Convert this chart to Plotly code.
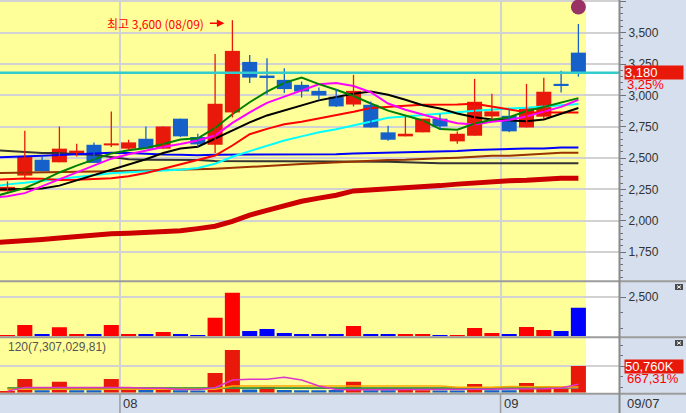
import plotly.graph_objects as go

W, H = 686, 413

# ---------------- data ----------------
idx = list(range(34))
opens  = [2235, 2360, 2487, 2466, 2527, 2606, 2601, 2575, 2654, 2575, 2814, 2668,
          2606, 2864, 3267, 3158, 3124, 3084, 3036, 2989, 2927, 2925, 2705, 2673,
          2705, 2814, 2633, 2678, 2832, 2837, 2744, 2830, 3092, 3341]
closes = [2270, 2511, 2394, 2575, 2559, 2461, 2617, 2625, 2575, 2752, 2673, 2609,
          2933, 3355, 3142, 3145, 3050, 3031, 2999, 2912, 3036, 2744, 2646, 2694,
          2814, 2752, 2694, 2949, 2872, 2713, 2901, 3029, 3079, 3180]
highs  = [2314, 2718, 2519, 2752, 2614, 2625, 2872, 2646, 2752, 2752, 2814, 2694,
          3331, 3600, 3323, 3297, 3217, 3111, 3063, 3050, 3164, 2951, 2758, 2832,
          2814, 2851, 2712, 3132, 3013, 2891, 3092, 3140, 3196, 3570]
lows   = [2232, 2328, 2394, 2466, 2513, 2461, 2588, 2567, 2575, 2575, 2668, 2591,
          2540, 2824, 3098, 3005, 3018, 2983, 2965, 2907, 2912, 2744, 2638, 2673,
          2705, 2726, 2614, 2678, 2806, 2705, 2744, 2811, 3023, 3150]

# moving averages (first value = day before the first visible candle)
ma_x = list(range(-1, 34))
ma_green   = [2185, 2220, 2260, 2320, 2385, 2440, 2490, 2537, 2562, 2580, 2612, 2648, 2658,
              2740, 2850, 2945, 3030, 3100, 3142, 3090, 3045, 2995, 2935, 2878, 2840, 2800,
              2731, 2726, 2775, 2806, 2826, 2875, 2908, 2940, 2978]
ma_magenta = [2180, 2195, 2220, 2275, 2330, 2385, 2440, 2495, 2530, 2562, 2588, 2612, 2640,
              2680, 2780, 2865, 2940, 2990, 3040, 3088, 3098, 3075, 3025, 2935, 2885, 2845,
              2810, 2778, 2768, 2790, 2804, 2832, 2868, 2908, 2965]
ma_black   = [2247, 2249, 2252, 2258, 2280, 2322, 2366, 2408, 2450, 2490, 2540, 2576, 2590,
              2655, 2725, 2785, 2840, 2880, 2920, 2960, 2987, 3013, 3030, 3005, 2965, 2922,
              2895, 2855, 2825, 2808, 2800, 2793, 2808, 2852, 2899]
ma_red     = [2325, 2330, 2336, 2334, 2324, 2326, 2332, 2339, 2355, 2380, 2415, 2450, 2480,
              2520, 2600, 2690, 2733, 2770, 2790, 2815, 2840, 2870, 2900, 2912, 2918, 2925,
              2925, 2928, 2933, 2912, 2885, 2866, 2864, 2864, 2864]
ma_cyan    = [2268, 2290, 2302, 2318, 2333, 2347, 2360, 2378, 2386, 2391, 2400, 2407, 2420,
              2455, 2510, 2555, 2595, 2640, 2673, 2705, 2730, 2760, 2795, 2822, 2832, 2845,
              2855, 2866, 2877, 2888, 2895, 2902, 2912, 2922, 2931]
ma_blue    = [2503, 2506, 2513, 2518, 2525, 2532, 2538, 2543, 2540, 2532, 2529, 2527, 2523,
              2527, 2527, 2527, 2527, 2527, 2527, 2527, 2530, 2537, 2540, 2545, 2548, 2548,
              2553, 2556, 2564, 2569, 2575, 2577, 2577, 2585, 2585]
ma_brown   = [2380, 2381, 2382, 2385, 2389, 2390, 2392, 2394, 2396, 2400, 2404, 2407, 2410,
              2415, 2421, 2428, 2434, 2444, 2453, 2460, 2466, 2474, 2482, 2485, 2487, 2495,
              2498, 2503, 2511, 2519, 2519, 2527, 2535, 2543, 2543]
ma_gray    = [2565, 2556, 2548, 2540, 2540, 2530, 2527, 2506, 2490, 2487, 2487, 2487, 2485,
              2476, 2474, 2474, 2474, 2474, 2474, 2474, 2474, 2474, 2474, 2470, 2466, 2460,
              2458, 2458, 2458, 2458, 2458, 2458, 2458, 2458, 2458]
ma_thick   = [1822, 1829, 1840, 1850, 1862, 1875, 1886, 1895, 1900, 1906, 1912, 1920, 1937,
              1956, 1995, 2045, 2083, 2120, 2155, 2180, 2203, 2238, 2245, 2250, 2260, 2270,
              2280, 2292, 2302, 2312, 2318, 2322, 2335, 2338, 2338]

# volume panel 1
vol1 = [60, 724, 147, 577, 147, 147, 724, 147, 147, 276, 147, 83, 1173, 2776, 340, 468,
        212, 147, 147, 147, 660, 147, 147, 147, 147, 83, 83, 532, 212, 147, 596, 404, 340, 1814]
# volume panel 2 (thousand shares)
vol2 = [2000, 26000, 4500, 21000, 4500, 4500, 26000, 5000, 5000, 9000, 4500, 4000, 37500,
        81000, 6000, 11000, 5000, 4500, 4500, 5000, 21000, 4500, 4500, 7500, 4500, 4000,
        4000, 16500, 4500, 4500, 18500, 11500, 9000, 50760]
vma_magenta = [3000, 10000, 10000, 10000, 10000, 10000, 10000, 10000, 8500, 8500, 6000, 6000,
               9500, 24000, 25500, 25500, 29300, 24000, 12700, 6000, 5500, 5500, 5500, 5500,
               6000, 6000, 6000, 6500, 6500, 7000, 7000, 7500, 9000, 16000]
vma_orange = [6500] * 13 + [12700] * 13 + [10500] * 3 + [12000] * 3 + [11000] * 2
vma_green = [8900] * 33
vma_gray = [8300] * 34

marker_price = 3705
month_pos = [6.5, 28.5]
month_lbl = ['08', '09']
last_date = '09/07'
chg_text = '3,25%'
vol_chg_text = '667,31%'
vol_title = '120(7,307,029,81)'
hi_date = '08/09'

# ---------------- styles ----------------
RED_C, BLUE_C = '#e8190b', '#1660c9'
YELLOW = '#ffff99'
PANEL = '#d5dfed'
GRID = '#d2d2d2'
FONT = 'Liberation Sans'
KFONT = 'Noto Sans CJK KR'

cc = [RED_C if c >= o else BLUE_C for o, c in zip(opens, closes)]
vc1 = ['#ff0000' if c >= o else '#0000ff' for o, c in zip(opens, closes)]
vc2 = [RED_C] + [RED_C if closes[i] >= closes[i - 1] else BLUE_C for i in idx[1:]]

fig = go.Figure()

# moving averages
for vals, col, wd in [(ma_thick, '#cc0000', 5), (ma_gray, '#333333', 2), (ma_brown, '#993300', 2),
                      (ma_blue, '#0000ff', 2), (ma_cyan, '#00ffff', 2), (ma_red, '#ff0000', 2),
                      (ma_black, '#000000', 2), (ma_magenta, '#ff00ff', 2), (ma_green, '#008000', 2)]:
    fig.add_trace(go.Scatter(x=ma_x, y=vals, mode='lines', line=dict(color=col, width=wd),
                             yaxis='y', hoverinfo='skip'))

# wicks
for col in (RED_C, BLUE_C):
    xs, ys = [], []
    for i in idx:
        if cc[i] == col:
            xs += [i, i, None]
            ys += [lows[i], highs[i], None]
    fig.add_trace(go.Scatter(x=xs, y=ys, mode='lines', line=dict(color=col, width=1.3),
                             yaxis='y', hoverinfo='skip'))

# bodies
fig.add_trace(go.Bar(x=idx, y=[max(abs(c - o), 10) for o, c in zip(opens, closes)],
                     base=[min(o, c) for o, c in zip(opens, closes)], width=0.87,
                     marker=dict(color=cc, line=dict(width=0)), yaxis='y', hoverinfo='skip'))

# current price line
fig.add_trace(go.Scatter(x=[-1, 36], y=[closes[-1]] * 2, mode='lines',
                         line=dict(color='#33cccc', width=2.5), yaxis='y', hoverinfo='skip'))
# marker circle
fig.add_trace(go.Scatter(x=[idx[-1]], y=[marker_price], mode='markers',
                         marker=dict(size=15, color='#993366'), yaxis='y', hoverinfo='skip'))

# volume panels
fig.add_trace(go.Bar(x=idx, y=vol1, width=0.87, marker=dict(color=vc1, line=dict(width=0)),
                     yaxis='y2', hoverinfo='skip'))
fig.add_trace(go.Bar(x=idx, y=vol2, width=0.87, marker=dict(color=vc2, line=dict(width=0)),
                     yaxis='y3', hoverinfo='skip'))
for vals, col in [(vma_gray, '#808080'), (vma_green, '#2a9a2a'), (vma_orange, '#ffa500'),
                  (vma_magenta, '#dd33cc')]:
    fig.add_trace(go.Scatter(x=idx[:len(vals)], y=vals, mode='lines', line=dict(color=col, width=1.5),
                             yaxis='y3', hoverinfo='skip'))

tickfont = dict(family=FONT, size=12, color='#333333')
yax_common = dict(side='right', anchor='x', ticks='outside', ticklen=6, tickcolor='#707070',
                  tickwidth=1, showgrid=True, gridcolor=GRID, gridwidth=1.5, zeroline=False,
                  showline=False, tickfont=tickfont, fixedrange=True)

fig.update_layout(
    width=W, height=H, margin=dict(l=0, r=0, t=0, b=0), showlegend=False,
    paper_bgcolor='white', plot_bgcolor='white', barmode='overlay', hovermode=False,
    xaxis=dict(domain=[0, 619 / W], range=[-0.4335, 35.347], anchor='y3', tickvals=month_pos,
               showticklabels=False, ticks='', showgrid=True, gridcolor=GRID, gridwidth=1.5,
               zeroline=False, showline=False, fixedrange=True),
    yaxis=dict(domain=[1 - 281 / H, 1], range=[1519, 3761], tick0=0, dtick=250, tickformat=',d',
               showticklabels=True,
               minor=dict(tick0=0, dtick=50, ticks='outside', ticklen=3, tickcolor='#707070',
                          showgrid=False), **yax_common),
    yaxis2=dict(domain=[1 - 336.3 / H, 1 - 282 / H], range=[0, 3454], tickvals=[2500],
                ticktext=['2,500'], showticklabels=True,
                minor=dict(tick0=500, dtick=1000, ticks='outside', ticklen=3, tickcolor='#707070',
                           showgrid=False), **yax_common),
    yaxis3=dict(domain=[1 - 392.7 / H, 1 - 338 / H], range=[0, 104000], tickvals=[50000],
                showticklabels=False,
                minor=dict(tick0=10000, dtick=20000, ticks='outside', ticklen=3, tickcolor='#707070',
                           showgrid=False), **yax_common),
)

shapes = []
# background panels
shapes.append(dict(type='rect', xref='x', yref='paper', x0=-1, x1=idx[-1] + 0.44,
                   y0=1 - 392.7 / H, y1=1, fillcolor=YELLOW, line=dict(width=0), layer='below'))
shapes.append(dict(type='rect', xref='paper', yref='paper', x0=619 / W, x1=1, y0=0, y1=1,
                   fillcolor=PANEL, line=dict(width=0), layer='below'))
shapes.append(dict(type='rect', xref='paper', yref='paper', x0=0, x1=1, y0=0, y1=(H - 394) / H,
                   fillcolor=PANEL, line=dict(width=0), layer='below'))
# separators
for ypx in (281.3, 337.2, 393.8):
    shapes.append(dict(type='line', xref='paper', yref='paper', x0=0, x1=1, y0=1 - ypx / H,
                       y1=1 - ypx / H, line=dict(color='#9c9c9c', width=2), layer='above'))
shapes.append(dict(type='line', xref='paper', yref='paper', x0=619.5 / W, x1=619.5 / W, y0=0, y1=1,
                   line=dict(color='#8a8a8a', width=2), layer='above'))
for mp in month_pos:
    shapes.append(dict(type='line', xref='x', yref='paper', x0=mp, x1=mp, y0=0, y1=(H - 394) / H,
                       line=dict(color='#9c9c9c', width=1.5), layer='above'))
# close buttons
for ytop in (284, 340):
    shapes.append(dict(type='rect', xref='paper', yref='paper', x0=675 / W, x1=683 / W,
                       y0=1 - (ytop + 6) / H, y1=1 - ytop / H, fillcolor='#4a4a4a',
                       line=dict(width=0), layer='above'))
    shapes.append(dict(type='line', xref='paper', yref='paper', x0=677 / W, x1=681 / W,
                       y0=1 - (ytop + 1.5) / H, y1=1 - (ytop + 4.5) / H,
                       line=dict(color='white', width=1), layer='above'))
    shapes.append(dict(type='line', xref='paper', yref='paper', x0=677 / W, x1=681 / W,
                       y0=1 - (ytop + 4.5) / H, y1=1 - (ytop + 1.5) / H,
                       line=dict(color='white', width=1), layer='above'))
fig.update_layout(shapes=shapes)

hi_i = max(idx, key=lambda i: highs[i])
hi_v = highs[hi_i]
ann = []
ann.append(dict(x=hi_i, y=hi_v, xref='x', yref='y', xanchor='right', yanchor='middle',
                xshift=-26, yshift=-3, text=f'최고 {hi_v:,} ({hi_date})', showarrow=False,
                font=dict(family=KFONT, size=12, color='#ff0000')))
ann.append(dict(x=hi_i, y=hi_v, xref='x', yref='y', xshift=-8, yshift=-3, ax=-16, ay=0,
                text='', showarrow=True, arrowhead=2, arrowsize=1, arrowwidth=1.5,
                arrowcolor='#ff0000'))
for mp, lb in zip(month_pos, month_lbl):
    ann.append(dict(x=mp, y=(H - 403.5) / H, xref='x', yref='paper', xanchor='left',
                    yanchor='middle', xshift=1, text=lb, showarrow=False,
                    font=dict(family=FONT, size=13, color='#333333')))
ann.append(dict(x=625 / W, y=(H - 403.5) / H, xref='paper', yref='paper', xanchor='left',
                yanchor='middle', text=last_date, showarrow=False,
                font=dict(family=FONT, size=13, color='#333333')))
ann.append(dict(x=623.5 / W, y=closes[-1], xref='paper', yref='y', xanchor='left', yanchor='middle',
                text=f'{closes[-1]:,}', showarrow=False, bgcolor=RED_C, width=58, height=13,
                align='left', borderpad=0, font=dict(family=FONT, size=13, color='white')))
ann.append(dict(x=625 / W, y=1 - 84.5 / H, xref='paper', yref='paper', xanchor='left',
                yanchor='middle', text=chg_text, showarrow=False,
                font=dict(family=FONT, size=13, color='#ff0000')))
ann.append(dict(x=623.5 / W, y=vol2[-1], xref='paper', yref='y3', xanchor='left', yanchor='middle',
                text=f'{vol2[-1]:,}K', showarrow=False, bgcolor=RED_C, width=58, height=13,
                align='left', borderpad=0, font=dict(family=FONT, size=13, color='white')))
ann.append(dict(x=625 / W, y=1 - 378 / H, xref='paper', yref='paper', xanchor='left',
                yanchor='middle', text=vol_chg_text, showarrow=False,
                font=dict(family=FONT, size=13, color='#ff0000')))
ann.append(dict(x=6 / W, y=1 - 346.5 / H, xref='paper', yref='paper', xanchor='left',
                yanchor='middle', text=vol_title, showarrow=False,
                font=dict(family=FONT, size=12, color='#555555')))
fig.update_layout(annotations=ann)

fig.write_html('out.html', config={'displayModeBar': False},
               post_script="document.body.style.margin='0';document.body.style.padding='0';"
                           "document.documentElement.style.overflow='hidden';")
